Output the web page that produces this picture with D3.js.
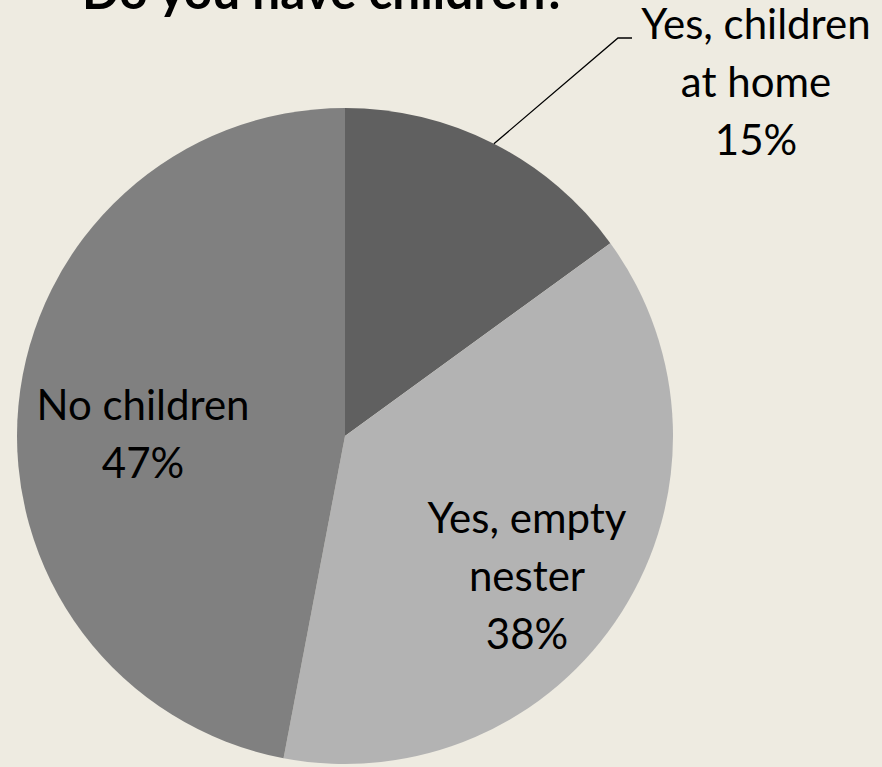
<!DOCTYPE html>
<html>
<head>
<meta charset="utf-8">
<script src="https://cdn.jsdelivr.net/npm/d3@7"></script>
<style>
  html, body { margin: 0; padding: 0; background: #eeebe1; }
  svg { display: block; }
  text { font-family: Lato, "Noto Sans", sans-serif; fill: #000; }
</style>
</head>
<body>
<svg id="chart" width="882" height="767"></svg>
<script>
// Survey answers: share of respondents per category (percent)
const categories = ["Yes, children at home", "Yes, empty nester", "No children"];
const values = [15, 38, 47];
const labelLines = [["Yes, children", "at home"], ["Yes, empty", "nester"], ["No children"]];
const colors = ["#606060", "#b3b3b3", "#808080"];
const title = "Do you have children?";

const svg = d3.select("#chart");
const W = 882, H = 767;
const cx = 345, cy = 436, r = 328;

svg.append("rect").attr("width", W).attr("height", H).attr("fill", "#eeebe1");

svg.append("text")
  .attr("x", 82).attr("y", 9)
  .attr("font-size", 49.5).attr("font-weight", "bold")
  .text(title);

const pie = d3.pie().sort(null).value(d => d)(values);
const arc = d3.arc().innerRadius(0).outerRadius(r);
const edge = d3.arc().innerRadius(r).outerRadius(r);

const g = svg.append("g").attr("transform", `translate(${cx},${cy})`);
g.selectAll("path.slice")
  .data(pie)
  .join("path")
  .attr("class", "slice")
  .attr("d", arc)
  .attr("fill", (d, i) => colors[i]);

const total = d3.sum(values);
const pct = v => Math.round(v / total * 100) + "%";
const lineH = 58;
const fs = 42;

// Label placement (page coords of the first baseline, centred)
const labelPos = [
  { x: 756, y: 39 },
  { x: 527, y: 533 },
  { x: 143, y: 420 }
];

pie.forEach((d, i) => {
  const lines = labelLines[i].concat([pct(d.value)]);
  const t = svg.append("text")
    .attr("text-anchor", "middle")
    .attr("font-size", fs);
  lines.forEach((s, k) => {
    t.append("tspan").attr("x", labelPos[i].x).attr("y", labelPos[i].y + k * lineH).text(s);
  });
});

// Leader line for the small outside-labelled slice
const [ex, ey] = edge.centroid(pie[0]);
svg.append("polyline")
  .attr("points", [[cx + ex, cy + ey], [618, 38], [632, 38]].map(p => p.join(",")).join(" "))
  .attr("fill", "none")
  .attr("stroke", "#000")
  .attr("stroke-width", 1.3);
</script>
</body>
</html>
